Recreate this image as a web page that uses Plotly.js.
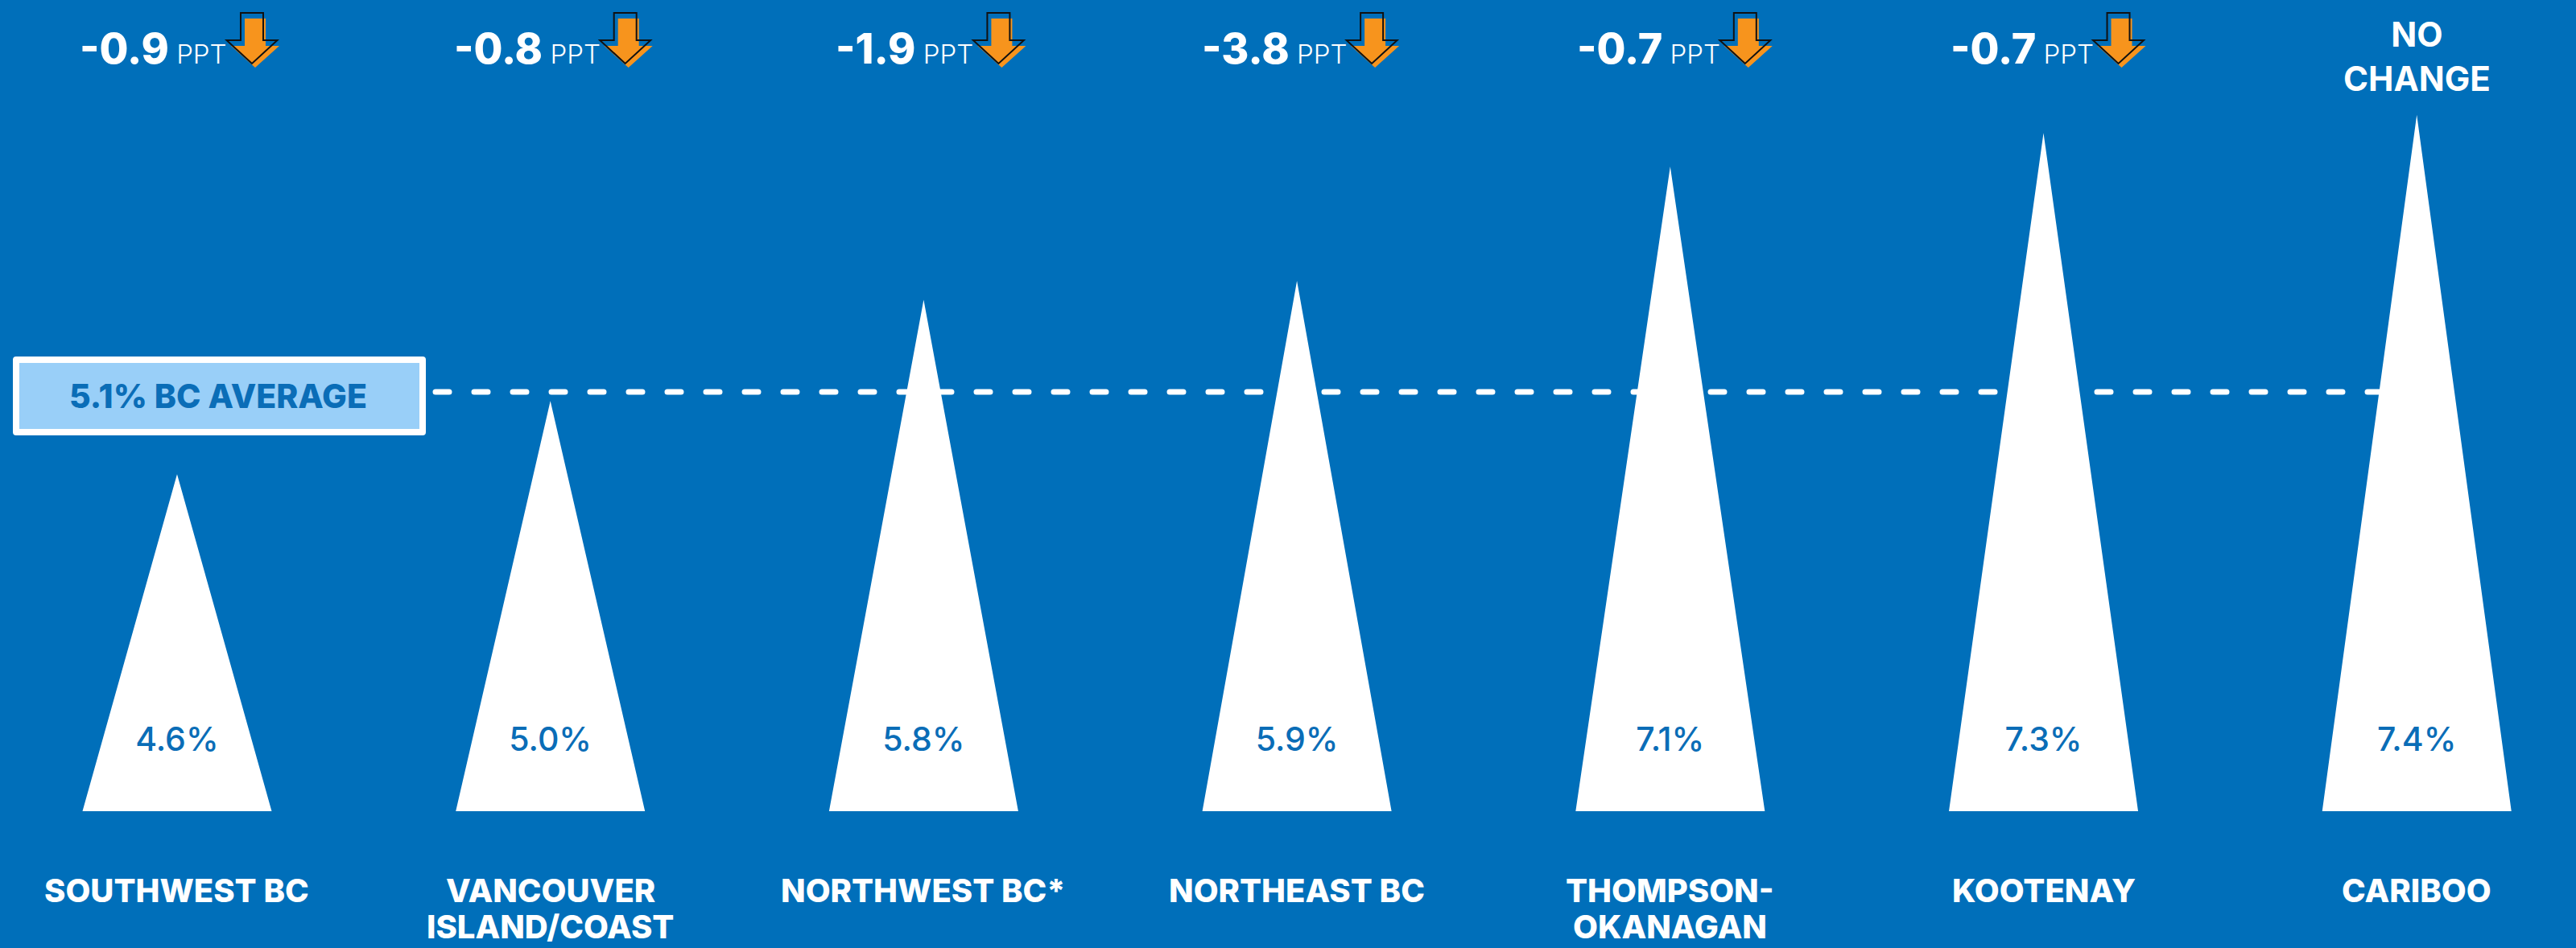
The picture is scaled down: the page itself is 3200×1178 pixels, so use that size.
<!DOCTYPE html>
<html>
<head>
<meta charset="utf-8">
<script src="https://cdn.plot.ly/plotly-3.0.1.min.js"></script>
<style>
  html, body { margin: 0; padding: 0; background: #006FBA; }
  #chart { width: 3200px; height: 1178px; }
</style>
</head>
<body>
<div id="chart"></div>
<script>
// ---- data ----
const regions = ["SOUTHWEST BC", "VANCOUVER<br>ISLAND/COAST", "NORTHWEST BC*", "NORTHEAST BC",
                 "THOMPSON-<br>OKANAGAN", "KOOTENAY", "CARIBOO"];
const rates = [4.6, 5.0, 5.8, 5.9, 7.1, 7.3, 7.4];          // unemployment rate, %
const changes = [-0.9, -0.8, -1.9, -3.8, -0.7, -0.7, 0];     // change, percentage points
const peaks = [4.10, 4.99, 6.22, 6.45, 7.84, 8.25, 8.47];    // drawn triangle heights (axis units)
const bcAverage = 5.1;

// ---- styling ----
const W = 3200, H = 1178;
const BG = "#006FBA";
const TEXT_BLUE = "#0A6DB7";
const BOX_FILL = "#99CFF8";
const ORANGE = "#F7941D";
const FONT = "Inter, 'Open Sans', sans-serif";
const halfBase = 0.2534;              // triangle half base width in category units
const xRange = [-0.4744, 6.4265];
const yRange = [-1.664, 9.867];

// triangles as one filled polygon trace
const tx = [], ty = [];
peaks.forEach((p, i) => {
  tx.push(i - halfBase, i, i + halfBase, i - halfBase, null);
  ty.push(0, p, 0, 0, null);
});

const traces = [
  {
    type: "scatter", mode: "lines", x: tx, y: ty,
    fill: "toself", fillcolor: "#FFFFFF", line: { width: 0, color: "#FFFFFF" },
    hoverinfo: "skip", showlegend: false
  },
  {
    type: "scatter", mode: "text",
    x: rates.map((_, i) => i), y: rates.map(() => 0.83),
    text: rates.map(v => v.toFixed(1) + "%"),
    textposition: "middle center",
    textfont: { family: FONT, size: 41, color: TEXT_BLUE, weight: 500 },
    hoverinfo: "skip", showlegend: false
  }
];

function arrowPath(cx, top, headTop, tip, shaftHalf, headHalf) {
  // pixel path relative to anchor (y positive upward)
  return `M ${cx - shaftHalf} ${-top} L ${cx + shaftHalf} ${-top} L ${cx + shaftHalf} ${-headTop} ` +
         `L ${cx + headHalf} ${-headTop} L ${cx} ${-tip} L ${cx - headHalf} ${-headTop} ` +
         `L ${cx - shaftHalf} ${-headTop} Z`;
}

const shapes = [];
// dashed average line (under the triangles)
shapes.push({
  type: "line", layer: "below",
  xref: "paper", x0: 541 / W, x1: 3002 / W,
  yref: "y", y0: bcAverage, y1: bcAverage,
  line: { color: "#FFFFFF", width: 7, dash: "17px,31px" }
});
// average box
shapes.push({
  type: "rect", layer: "above",
  xref: "paper", x0: 20 / W, x1: 525 / W,
  yref: "y", ysizemode: "pixel", yanchor: bcAverage, y0: -50, y1: 40,
  fillcolor: BOX_FILL, line: { color: "#FFFFFF", width: 8 }
});
// arrows
changes.forEach((c, i) => {
  if (c === 0) return;
  shapes.push({
    type: "path", layer: "above",
    xref: "x", xsizemode: "pixel", xanchor: i,
    yref: "paper", ysizemode: "pixel", yanchor: 1,
    path: arrowPath(97, 23, 57, 84, 13, 30),
    fillcolor: ORANGE, line: { width: 0 }
  });
  shapes.push({
    type: "path", layer: "above",
    xref: "x", xsizemode: "pixel", xanchor: i,
    yref: "paper", ysizemode: "pixel", yanchor: 1,
    path: arrowPath(93, 16, 50, 79, 14, 31.5),
    fillcolor: "rgba(0,0,0,0)", line: { color: "#111111", width: 2 }
  });
});

const annotations = [];
// average box label
annotations.push({
  xref: "paper", x: 271 / W, yref: "y", y: bcAverage, yshift: -5,
  xanchor: "center", yanchor: "middle", showarrow: false,
  text: bcAverage.toFixed(1) + "% BC AVERAGE",
  font: { family: FONT, size: 41, color: TEXT_BLUE, weight: 800 }
});
// change labels on top
changes.forEach((c, i) => {
  if (c === 0) {
    annotations.push({
      xref: "x", x: i, yref: "paper", y: 1 - 70 / H,
      xanchor: "center", yanchor: "middle", showarrow: false,
      text: "NO<br>CHANGE",
      font: { family: FONT, size: 42, color: "#FFFFFF", weight: 700 }
    });
  } else {
    annotations.push({
      xref: "x", x: i, xshift: 64, yref: "paper", y: 1 - 61 / H,
      xanchor: "right", yanchor: "middle", showarrow: false,
      text: `<span style="font-weight:800;font-size:52px">${c.toFixed(1)}</span>` +
            `<span style="font-weight:300;font-size:33px"> PPT</span>`,
      font: { family: FONT, size: 52, color: "#FFFFFF" }
    });
  }
});
// region names at bottom (one annotation per line)
const lineCenters = [1106, 1151];
regions.forEach((r, i) => {
  r.split("<br>").forEach((ln, k) => {
    annotations.push({
      xref: "x", x: i, yref: "paper", y: 1 - lineCenters[k] / H,
      xanchor: "center", yanchor: "middle", showarrow: false,
      text: ln,
      font: { family: FONT, size: 40, color: "#FFFFFF", weight: 800 }
    });
  });
});

const layout = {
  width: W, height: H,
  margin: { l: 0, r: 0, t: 0, b: 0, pad: 0 },
  paper_bgcolor: BG, plot_bgcolor: BG,
  showlegend: false,
  xaxis: { range: xRange, visible: false, fixedrange: true },
  yaxis: { range: yRange, visible: false, fixedrange: true },
  shapes: shapes,
  annotations: annotations
};

Plotly.newPlot("chart", traces, layout, { staticPlot: true, displayModeBar: false }).then(() => {
  document.querySelectorAll(".shapelayer path").forEach((p) => {
    const idx = p.getAttribute("data-index");
    if (idx === "0" || idx === "1") {
      p.style.strokeLinecap = "round";
      p.style.strokeLinejoin = "round";
    }
  });
});
</script>
</body>
</html>
